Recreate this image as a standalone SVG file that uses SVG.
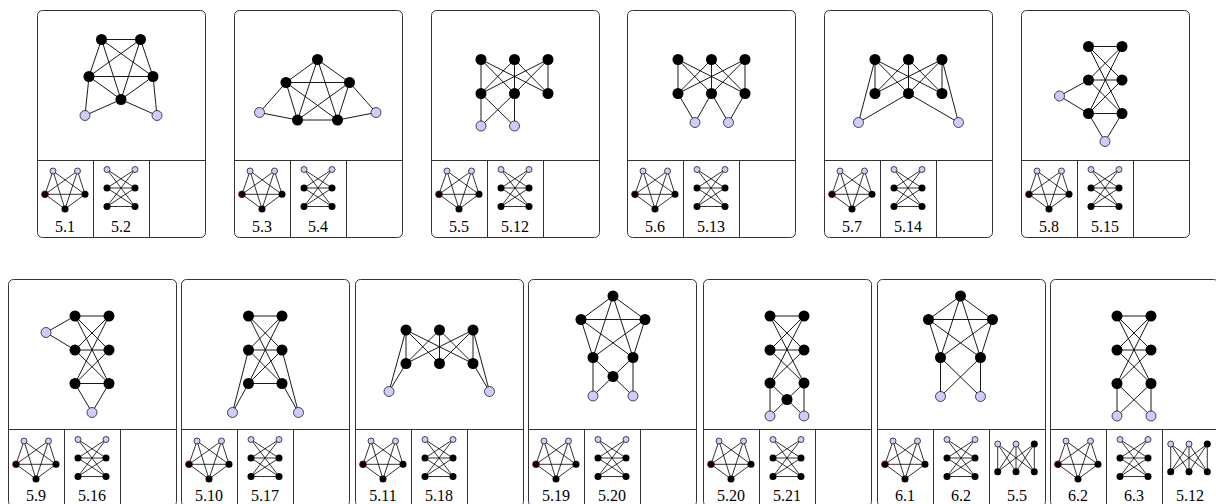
<svg xmlns="http://www.w3.org/2000/svg" xmlns:xlink="http://www.w3.org/1999/xlink" width="1216" height="504" viewBox="0 0 1216 504">
<style>
.frame{fill:none;stroke:#333;stroke-width:1}
.div{fill:none;stroke:#333;stroke-width:1}
.e{fill:none;stroke:#000;stroke-width:0.9}
.me{fill:none;stroke:#000;stroke-width:0.8}
.n{fill:#000}
.l{fill:#ccccff;stroke:#000;stroke-width:0.7}
.r{fill:#000;stroke:#8b0000;stroke-width:0.8}
.lab{font-family:"Liberation Serif","DejaVu Serif",serif;font-size:16px;text-anchor:middle;fill:#000}
</style>
<defs>
<g id="pent">
<path class="me" d="M16 11L8 34.3M16 11L48 34.3M16 11L28 49M40.5 11L8 34.3M40.5 11L48 34.3M40.5 11L28 49M8 34.3L48 34.3M8 34.3L28 49M48 34.3L28 49"/>
<circle class="l" cx="16" cy="11" r="3"/><circle class="l" cx="40.5" cy="11" r="3"/>
<circle class="r" cx="8" cy="34.3" r="3.4"/><circle class="n" cx="48" cy="34.3" r="3.5"/><circle class="n" cx="28" cy="49" r="3.5"/>
</g>
<g id="twocol">
<path class="me" d="M14 9.5L42 28M14 9.5L42 46.5M42 9.5L14 28M42 9.5L14 46.5M14 28L42 28M14 28L42 46.5M42 28L14 46.5M14 46.5L42 46.5"/>
<circle class="l" cx="14" cy="9.5" r="3"/><circle class="l" cx="42" cy="9.5" r="3"/>
<circle class="n" cx="14" cy="28" r="3.5"/><circle class="n" cx="42" cy="28" r="3.5"/>
<circle class="n" cx="14" cy="46.5" r="3.5"/><circle class="n" cx="42" cy="46.5" r="3.5"/>
</g>
<g id="bip">
<path class="me" d="M8.7 15L8.7 42.7M8.7 15L27 42.7M8.7 15L45.3 42.7M27 15L8.7 42.7M27 15L27 42.7M27 15L45.3 42.7M45.3 15L8.7 42.7M45.3 15L27 42.7M45.3 15L45.3 42.7"/>
<circle class="l" cx="8.7" cy="15" r="3"/><circle class="l" cx="27" cy="15" r="3"/><circle class="n" cx="45.3" cy="15" r="3.5"/>
<circle class="n" cx="8.7" cy="42.7" r="3.5"/><circle class="n" cx="27" cy="42.7" r="3.5"/><circle class="n" cx="45.3" cy="42.7" r="3.5"/>
</g>
<g id="bip2">
<path class="me" d="M8.7 15L27 42.7M8.7 15L45.3 42.7M27 15L8.7 42.7M27 15L27 42.7M27 15L45.3 42.7M45.3 15L8.7 42.7M45.3 15L27 42.7M45.3 15L45.3 42.7M8.7 42.7L8.7 15"/>
<circle class="l" cx="8.7" cy="15" r="3"/><circle class="l" cx="27" cy="15" r="3"/><circle class="n" cx="45.3" cy="15" r="3.5"/>
<circle class="n" cx="8.7" cy="42.7" r="3.5"/><circle class="n" cx="27" cy="42.7" r="3.5"/><circle class="n" cx="45.3" cy="42.7" r="3.5"/>
</g>
</defs>

<g id="frames">
<rect class="frame" x="37.5" y="10.5" width="168" height="227" rx="5"/>
<path class="div" d="M37.5 160.5H205.5M93.5 160.5V237.5M149.5 160.5V237.5"/>
<rect class="frame" x="234.5" y="10.5" width="168" height="227" rx="5"/>
<path class="div" d="M234.5 160.5H402.5M290.5 160.5V237.5M346.5 160.5V237.5"/>
<rect class="frame" x="431.5" y="10.5" width="168" height="227" rx="5"/>
<path class="div" d="M431.5 160.5H599.5M487.5 160.5V237.5M543.5 160.5V237.5"/>
<rect class="frame" x="627.5" y="10.5" width="168" height="227" rx="5"/>
<path class="div" d="M627.5 160.5H795.5M683.5 160.5V237.5M739.5 160.5V237.5"/>
<rect class="frame" x="824.5" y="10.5" width="168" height="227" rx="5"/>
<path class="div" d="M824.5 160.5H992.5M880.5 160.5V237.5M936.5 160.5V237.5"/>
<rect class="frame" x="1021.5" y="10.5" width="168" height="227" rx="5"/>
<path class="div" d="M1021.5 160.5H1189.5M1077.5 160.5V237.5M1133.5 160.5V237.5"/>

<rect class="frame" x="8.5" y="279.5" width="168" height="227" rx="5"/>
<path class="div" d="M8.5 429.5H176.5M64.5 429.5V506.5M120.5 429.5V506.5"/>
<rect class="frame" x="181.5" y="279.5" width="168" height="227" rx="5"/>
<path class="div" d="M181.5 429.5H349.5M237.5 429.5V506.5M293.5 429.5V506.5"/>
<rect class="frame" x="355.5" y="279.5" width="168" height="227" rx="5"/>
<path class="div" d="M355.5 429.5H523.5M411.5 429.5V506.5M467.5 429.5V506.5"/>
<rect class="frame" x="528.5" y="279.5" width="168" height="227" rx="5"/>
<path class="div" d="M528.5 429.5H696.5M584.5 429.5V506.5M640.5 429.5V506.5"/>
<rect class="frame" x="703.5" y="279.5" width="168" height="227" rx="5"/>
<path class="div" d="M703.5 429.5H871.5M759.5 429.5V506.5M815.5 429.5V506.5"/>
<rect class="frame" x="877.5" y="279.5" width="168" height="227" rx="5"/>
<path class="div" d="M877.5 429.5H1045.5M933.5 429.5V506.5M989.5 429.5V506.5"/>
<rect class="frame" x="1050.5" y="279.5" width="168" height="227" rx="5"/>
<path class="div" d="M1050.5 429.5H1218.5M1106.5 429.5V506.5M1162.5 429.5V506.5"/>
</g>

<g id="connectors">
<path id="e-t1" class="e" d="M101.5 39.5L140.5 39.5M101.5 39.5L89 76.5M101.5 39.5L153 76.5M101.5 39.5L121 99.5M140.5 39.5L89 76.5M140.5 39.5L153 76.5M140.5 39.5L121 99.5M89 76.5L153 76.5M89 76.5L121 99.5M153 76.5L121 99.5M85 115.5L89 76.5M85 115.5L121 99.5M157 115.5L153 76.5M157 115.5L121 99.5"/>
<path id="e-t2" class="e" d="M317.5 59.5L286 82.5M317.5 59.5L349.5 82.5M317.5 59.5L297.5 120M317.5 59.5L337.5 120M286 82.5L349.5 82.5M286 82.5L297.5 120M286 82.5L337.5 120M349.5 82.5L297.5 120M349.5 82.5L337.5 120M297.5 120L337.5 120M259.5 112.5L286 82.5M259.5 112.5L297.5 120M376 112.5L349.5 82.5M376 112.5L337.5 120"/>
<path id="e-t3" class="e" d="M481 59.5L481 93.5M481 59.5L514.5 93.5M481 59.5L548 93.5M514.5 59.5L481 93.5M514.5 59.5L514.5 93.5M514.5 59.5L548 93.5M548 59.5L481 93.5M548 59.5L514.5 93.5M548 59.5L548 93.5M481 126L481 93.5M481 126L514.5 93.5M514.5 126L481 93.5M514.5 126L514.5 93.5"/>
<path id="e-t4" class="e" d="M678 59.5L678 93.5M678 59.5L711.5 93.5M678 59.5L745 93.5M711.5 59.5L678 93.5M711.5 59.5L711.5 93.5M711.5 59.5L745 93.5M745 59.5L678 93.5M745 59.5L711.5 93.5M745 59.5L745 93.5M695 122.5L678 93.5M695 122.5L711.5 93.5M728.5 122.5L711.5 93.5M728.5 122.5L745 93.5"/>
<path id="e-t5" class="e" d="M875 59.5L875 93.5M875 59.5L908.5 93.5M875 59.5L942 93.5M908.5 59.5L875 93.5M908.5 59.5L908.5 93.5M908.5 59.5L942 93.5M942 59.5L875 93.5M942 59.5L908.5 93.5M942 59.5L942 93.5M858.5 122.5L875 59.5M858.5 122.5L908.5 93.5M958.5 122.5L942 59.5M958.5 122.5L908.5 93.5"/>
<path id="e-t6" class="e" d="M1088.5 46.5L1122 46.5M1088.5 46.5L1122 80M1088.5 46.5L1122 113.5M1088.5 80L1122 46.5M1088.5 80L1122 80M1088.5 80L1122 113.5M1088.5 113.5L1122 46.5M1088.5 113.5L1122 80M1088.5 113.5L1122 113.5M1059.5 96L1088.5 80M1059.5 96L1088.5 113.5M1105 141.5L1088.5 113.5M1105 141.5L1122 113.5"/>
<path id="e-b1" class="e" d="M75 316L109 316M75 316L109 350M75 316L109 383.5M75 350L109 316M75 350L109 350M75 350L109 383.5M75 383.5L109 316M75 383.5L109 350M75 383.5L109 383.5M46 332.5L75 316M46 332.5L75 350M92 412.5L75 383.5M92 412.5L109 383.5"/>
<path id="e-b2" class="e" d="M248.5 316L282 316M248.5 316L282 350M248.5 316L282 383.5M248.5 350L282 316M248.5 350L282 350M248.5 350L282 383.5M248.5 383.5L282 316M248.5 383.5L282 350M248.5 383.5L282 383.5M232.5 412.5L248.5 350M232.5 412.5L248.5 383.5M298.5 412.5L282 350M298.5 412.5L282 383.5"/>
<path id="e-b3" class="e" d="M406 330L406 363.5M406 330L439.5 363.5M406 330L473 363.5M439.5 330L406 363.5M439.5 330L439.5 363.5M439.5 330L473 363.5M473 330L406 363.5M473 330L439.5 363.5M473 330L473 363.5M389 391.5L406 330M389 391.5L406 363.5M489.5 391.5L473 330M489.5 391.5L473 363.5"/>
<path id="e-b4" class="e" d="M613 296L581 319.5M613 296L645 319.5M613 296L593 357.5M613 296L633 357.5M581 319.5L645 319.5M581 319.5L593 357.5M581 319.5L633 357.5M645 319.5L593 357.5M645 319.5L633 357.5M613 376.5L593 357.5M613 376.5L633 357.5M613 376.5L593 396M613 376.5L633 396M593 357.5L593 396M633 357.5L633 396"/>
<path id="e-b5" class="e" d="M770 316L804 316M770 316L804 350M770 316L804 383M770 350L804 316M770 350L804 350M770 350L804 383M770 383L804 316M770 383L804 350M787 399.5L770 383M787 399.5L804 383M787 399.5L770 416M787 399.5L804 416M770 383L770 416M804 383L804 416"/>
<path id="e-b6" class="e" d="M960.5 296L928.5 319.5M960.5 296L992.5 319.5M960.5 296L940.5 357.5M960.5 296L980.5 357.5M928.5 319.5L992.5 319.5M928.5 319.5L940.5 357.5M928.5 319.5L980.5 357.5M992.5 319.5L940.5 357.5M992.5 319.5L980.5 357.5M940.5 357.5L940.5 396.5M980.5 357.5L980.5 396.5M940.5 357.5L980.5 396.5M980.5 357.5L940.5 396.5"/>
<path id="e-b7" class="e" d="M1117 316L1151 316M1117 316L1151 350M1117 316L1151 383.5M1117 350L1151 316M1117 350L1151 350M1117 350L1151 383.5M1117 383.5L1151 316M1117 383.5L1151 350M1117 383.5L1117 416M1117 383.5L1151 416M1151 383.5L1117 416M1151 383.5L1151 416"/>
</g>

<g id="g-t1">
<circle class="n" cx="101.5" cy="39.5" r="5.5"/><circle class="n" cx="140.5" cy="39.5" r="5.5"/><circle class="n" cx="89" cy="76.5" r="5.5"/><circle class="n" cx="153" cy="76.5" r="5.5"/><circle class="n" cx="121" cy="99.5" r="5.5"/><circle class="l" cx="85" cy="115.5" r="5"/><circle class="l" cx="157" cy="115.5" r="5"/>
</g>
<g id="g-t2">
<circle class="n" cx="317.5" cy="59.5" r="5.5"/><circle class="n" cx="286" cy="82.5" r="5.5"/><circle class="n" cx="349.5" cy="82.5" r="5.5"/><circle class="n" cx="297.5" cy="120" r="5.5"/><circle class="n" cx="337.5" cy="120" r="5.5"/><circle class="l" cx="259.5" cy="112.5" r="5"/><circle class="l" cx="376" cy="112.5" r="5"/>
</g>
<g id="g-t3">
<circle class="n" cx="481" cy="59.5" r="5.5"/><circle class="n" cx="514.5" cy="59.5" r="5.5"/><circle class="n" cx="548" cy="59.5" r="5.5"/><circle class="n" cx="481" cy="93.5" r="5.5"/><circle class="n" cx="514.5" cy="93.5" r="5.5"/><circle class="n" cx="548" cy="93.5" r="5.5"/><circle class="l" cx="481" cy="126" r="5"/><circle class="l" cx="514.5" cy="126" r="5"/>
</g>
<g id="g-t4">
<circle class="n" cx="678" cy="59.5" r="5.5"/><circle class="n" cx="711.5" cy="59.5" r="5.5"/><circle class="n" cx="745" cy="59.5" r="5.5"/><circle class="n" cx="678" cy="93.5" r="5.5"/><circle class="n" cx="711.5" cy="93.5" r="5.5"/><circle class="n" cx="745" cy="93.5" r="5.5"/><circle class="l" cx="695" cy="122.5" r="5"/><circle class="l" cx="728.5" cy="122.5" r="5"/>
</g>
<g id="g-t5">
<circle class="n" cx="875" cy="59.5" r="5.5"/><circle class="n" cx="908.5" cy="59.5" r="5.5"/><circle class="n" cx="942" cy="59.5" r="5.5"/><circle class="n" cx="875" cy="93.5" r="5.5"/><circle class="n" cx="908.5" cy="93.5" r="5.5"/><circle class="n" cx="942" cy="93.5" r="5.5"/><circle class="l" cx="858.5" cy="122.5" r="5"/><circle class="l" cx="958.5" cy="122.5" r="5"/>
</g>
<g id="g-t6">
<circle class="n" cx="1088.5" cy="46.5" r="5.5"/><circle class="n" cx="1122" cy="46.5" r="5.5"/><circle class="n" cx="1088.5" cy="80" r="5.5"/><circle class="n" cx="1122" cy="80" r="5.5"/><circle class="n" cx="1088.5" cy="113.5" r="5.5"/><circle class="n" cx="1122" cy="113.5" r="5.5"/><circle class="l" cx="1059.5" cy="96" r="5"/><circle class="l" cx="1105" cy="141.5" r="5"/>
</g>
<g id="g-b1">
<circle class="n" cx="75" cy="316" r="5.5"/><circle class="n" cx="109" cy="316" r="5.5"/><circle class="n" cx="75" cy="350" r="5.5"/><circle class="n" cx="109" cy="350" r="5.5"/><circle class="n" cx="75" cy="383.5" r="5.5"/><circle class="n" cx="109" cy="383.5" r="5.5"/><circle class="l" cx="46" cy="332.5" r="5"/><circle class="l" cx="92" cy="412.5" r="5"/>
</g>
<g id="g-b2">
<circle class="n" cx="248.5" cy="316" r="5.5"/><circle class="n" cx="282" cy="316" r="5.5"/><circle class="n" cx="248.5" cy="350" r="5.5"/><circle class="n" cx="282" cy="350" r="5.5"/><circle class="n" cx="248.5" cy="383.5" r="5.5"/><circle class="n" cx="282" cy="383.5" r="5.5"/><circle class="l" cx="232.5" cy="412.5" r="5"/><circle class="l" cx="298.5" cy="412.5" r="5"/>
</g>
<g id="g-b3">
<circle class="n" cx="406" cy="330" r="5.5"/><circle class="n" cx="439.5" cy="330" r="5.5"/><circle class="n" cx="473" cy="330" r="5.5"/><circle class="n" cx="406" cy="363.5" r="5.5"/><circle class="n" cx="439.5" cy="363.5" r="5.5"/><circle class="n" cx="473" cy="363.5" r="5.5"/><circle class="l" cx="389" cy="391.5" r="5"/><circle class="l" cx="489.5" cy="391.5" r="5"/>
</g>
<g id="g-b4">
<circle class="n" cx="613" cy="296" r="5.5"/><circle class="n" cx="581" cy="319.5" r="5.5"/><circle class="n" cx="645" cy="319.5" r="5.5"/><circle class="n" cx="593" cy="357.5" r="5.5"/><circle class="n" cx="633" cy="357.5" r="5.5"/><circle class="n" cx="613" cy="376.5" r="5.5"/><circle class="l" cx="593" cy="396" r="5"/><circle class="l" cx="633" cy="396" r="5"/>
</g>
<g id="g-b5">
<circle class="n" cx="770" cy="316" r="5.5"/><circle class="n" cx="804" cy="316" r="5.5"/><circle class="n" cx="770" cy="350" r="5.5"/><circle class="n" cx="804" cy="350" r="5.5"/><circle class="n" cx="770" cy="383" r="5.5"/><circle class="n" cx="804" cy="383" r="5.5"/><circle class="n" cx="787" cy="399.5" r="5.5"/><circle class="l" cx="770" cy="416" r="5"/><circle class="l" cx="804" cy="416" r="5"/>
</g>
<g id="g-b6">
<circle class="n" cx="960.5" cy="296" r="5.5"/><circle class="n" cx="928.5" cy="319.5" r="5.5"/><circle class="n" cx="992.5" cy="319.5" r="5.5"/><circle class="n" cx="940.5" cy="357.5" r="5.5"/><circle class="n" cx="980.5" cy="357.5" r="5.5"/><circle class="l" cx="940.5" cy="396.5" r="5"/><circle class="l" cx="980.5" cy="396.5" r="5"/>
</g>
<g id="g-b7">
<circle class="n" cx="1117" cy="316" r="5.5"/><circle class="n" cx="1151" cy="316" r="5.5"/><circle class="n" cx="1117" cy="350" r="5.5"/><circle class="n" cx="1151" cy="350" r="5.5"/><circle class="n" cx="1117" cy="383.5" r="5.5"/><circle class="n" cx="1151" cy="383.5" r="5.5"/><circle class="l" cx="1117" cy="416" r="5"/><circle class="l" cx="1151" cy="416" r="5"/>
</g>

<g id="minis">
<use href="#pent" x="37" y="160"/><use href="#twocol" x="93" y="160"/>
<use href="#pent" x="234" y="160"/><use href="#twocol" x="290" y="160"/>
<use href="#pent" x="431" y="160"/><use href="#twocol" x="487" y="160"/>
<use href="#pent" x="627" y="160"/><use href="#twocol" x="683" y="160"/>
<use href="#pent" x="824" y="160"/><use href="#twocol" x="880" y="160"/>
<use href="#pent" x="1021" y="160"/><use href="#twocol" x="1077" y="160"/>
<use href="#pent" x="8" y="430"/><use href="#twocol" x="64" y="430"/>
<use href="#pent" x="181" y="430"/><use href="#twocol" x="237" y="430"/>
<use href="#pent" x="355" y="430"/><use href="#twocol" x="411" y="430"/>
<use href="#pent" x="528" y="430"/><use href="#twocol" x="584" y="430"/>
<use href="#pent" x="703" y="430"/><use href="#twocol" x="759" y="430"/>
<use href="#pent" x="877" y="430"/><use href="#twocol" x="933" y="430"/><use href="#bip" x="989" y="429"/>
<use href="#pent" x="1050" y="430"/><use href="#twocol" x="1106" y="430"/><use href="#bip2" x="1162" y="429"/>
</g>

<g id="labels">
<text class="lab" x="65" y="232">5.1</text><text class="lab" x="121" y="232">5.2</text>
<text class="lab" x="262" y="232">5.3</text><text class="lab" x="318" y="232">5.4</text>
<text class="lab" x="459" y="232">5.5</text><text class="lab" x="515" y="232">5.12</text>
<text class="lab" x="655" y="232">5.6</text><text class="lab" x="711" y="232">5.13</text>
<text class="lab" x="852" y="232">5.7</text><text class="lab" x="908" y="232">5.14</text>
<text class="lab" x="1049" y="232">5.8</text><text class="lab" x="1105" y="232">5.15</text>
<text class="lab" x="36" y="501">5.9</text><text class="lab" x="92" y="501">5.16</text>
<text class="lab" x="209" y="501">5.10</text><text class="lab" x="265" y="501">5.17</text>
<text class="lab" x="383" y="501">5.11</text><text class="lab" x="439" y="501">5.18</text>
<text class="lab" x="556" y="501">5.19</text><text class="lab" x="612" y="501">5.20</text>
<text class="lab" x="731" y="501">5.20</text><text class="lab" x="787" y="501">5.21</text>
<text class="lab" x="905" y="501">6.1</text><text class="lab" x="961" y="501">6.2</text><text class="lab" x="1017" y="501">5.5</text>
<text class="lab" x="1078" y="501">6.2</text><text class="lab" x="1134" y="501">6.3</text><text class="lab" x="1190" y="501">5.12</text>
</g>
</svg>
